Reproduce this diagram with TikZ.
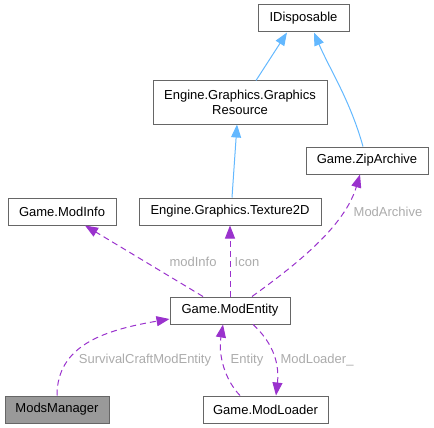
\documentclass[tikz,border=0pt]{standalone}
\usepackage{fontspec}
\setmainfont{Liberation Sans}
\usepackage{tikz}
\usetikzlibrary{arrows.meta, positioning}
\definecolor{usecolor}{HTML}{9A32CD}
\definecolor{basecolor}{HTML}{63B8FF}
\definecolor{edgecolor}{HTML}{666666}
\definecolor{labelcolor}{HTML}{ABABAB}

\begin{document}
\begin{tikzpicture}[x=1pt, y=-1pt,
    classbox/.style={rectangle, draw=edgecolor, fill=white, line width=1pt, minimum height=27pt, inner sep=0pt, font=\fontsize{13}{15}\selectfont, align=center},
    focusbox/.style={classbox, fill=black!40},
    inherit/.style={-{Triangle[length=13pt, width=10pt]}, basecolor, line width=1pt},
    usage/.style={-{Triangle[length=13pt, width=10pt]}, usecolor, line width=1pt, dash pattern=on 6pt off 4pt},
    edgelabel/.style={text=labelcolor, font=\fontsize{13}{15}\selectfont, inner sep=1pt}
]
\useasboundingbox (0,0) rectangle (434,428);
% classes
\node[classbox, minimum width=91pt] (idisp) at (303.5,18.5) {IDisposable};
\node[classbox, minimum width=174pt, minimum height=43pt] (gres) at (240,102.5) {Engine.Graphics.Graphics\\Resource};
\node[classbox, minimum width=122pt] (zip) at (367,160.5) {Game.ZipArchive};
\node[classbox, minimum width=108pt] (modinfo) at (62,211.5) {Game.ModInfo};
\node[classbox, minimum width=182pt] (tex) at (230,211.5) {Engine.Graphics.Texture2D};
\node[classbox, minimum width=120pt] (entity) at (230,310.5) {Game.ModEntity};
\node[focusbox, minimum width=104pt] (mods) at (57,409.5) {ModsManager};
\node[classbox, minimum width=125pt] (loader) at (265.5,409.5) {Game.ModLoader};
% inheritance
\draw[inherit] (gres.north -| 256,0) -- (idisp.south -| 287,0);
\draw[inherit] (zip.north -| 363,0) .. controls (350,100) and (330,70) .. (idisp.south -| 314,0);
\draw[inherit] (tex.north -| 232,0) -- (gres.south -| 237,0);
% members
\draw[usage] (entity.north -| 203,0) -- (modinfo.south -| 85,0);
\node[edgelabel] (lblinfo) at (193,262) {modInfo};
\draw[usage] (entity.north) -- (tex.south);
\node[edgelabel] (lblicon) at (247,262) {Icon};
\draw[usage] (entity.north -| 252,0) .. controls (300,262) and (345,225) .. (zip.south -| 360,0);
\node[edgelabel] (lblzip) at (388,212) {ModArchive};
\draw[usage] (mods.north) .. controls (57,345) and (105,330) .. (entity.west |- 0,319);
\node[edgelabel] (lblmods) at (145,360) {SurvivalCraftModEntity};
\draw[usage] (loader.north -| 240,0) .. controls (225,380) and (218,355) .. (entity.south -| 223,0);
\node[edgelabel] (lblent) at (247,360) {Entity};
\draw[usage] (entity.south -| 253,0) .. controls (270,340) and (280,360) .. (loader.north -| 276,0);
\node[edgelabel] (lblloader) at (317,360) {ModLoader\_};
\end{tikzpicture}
\end{document}
